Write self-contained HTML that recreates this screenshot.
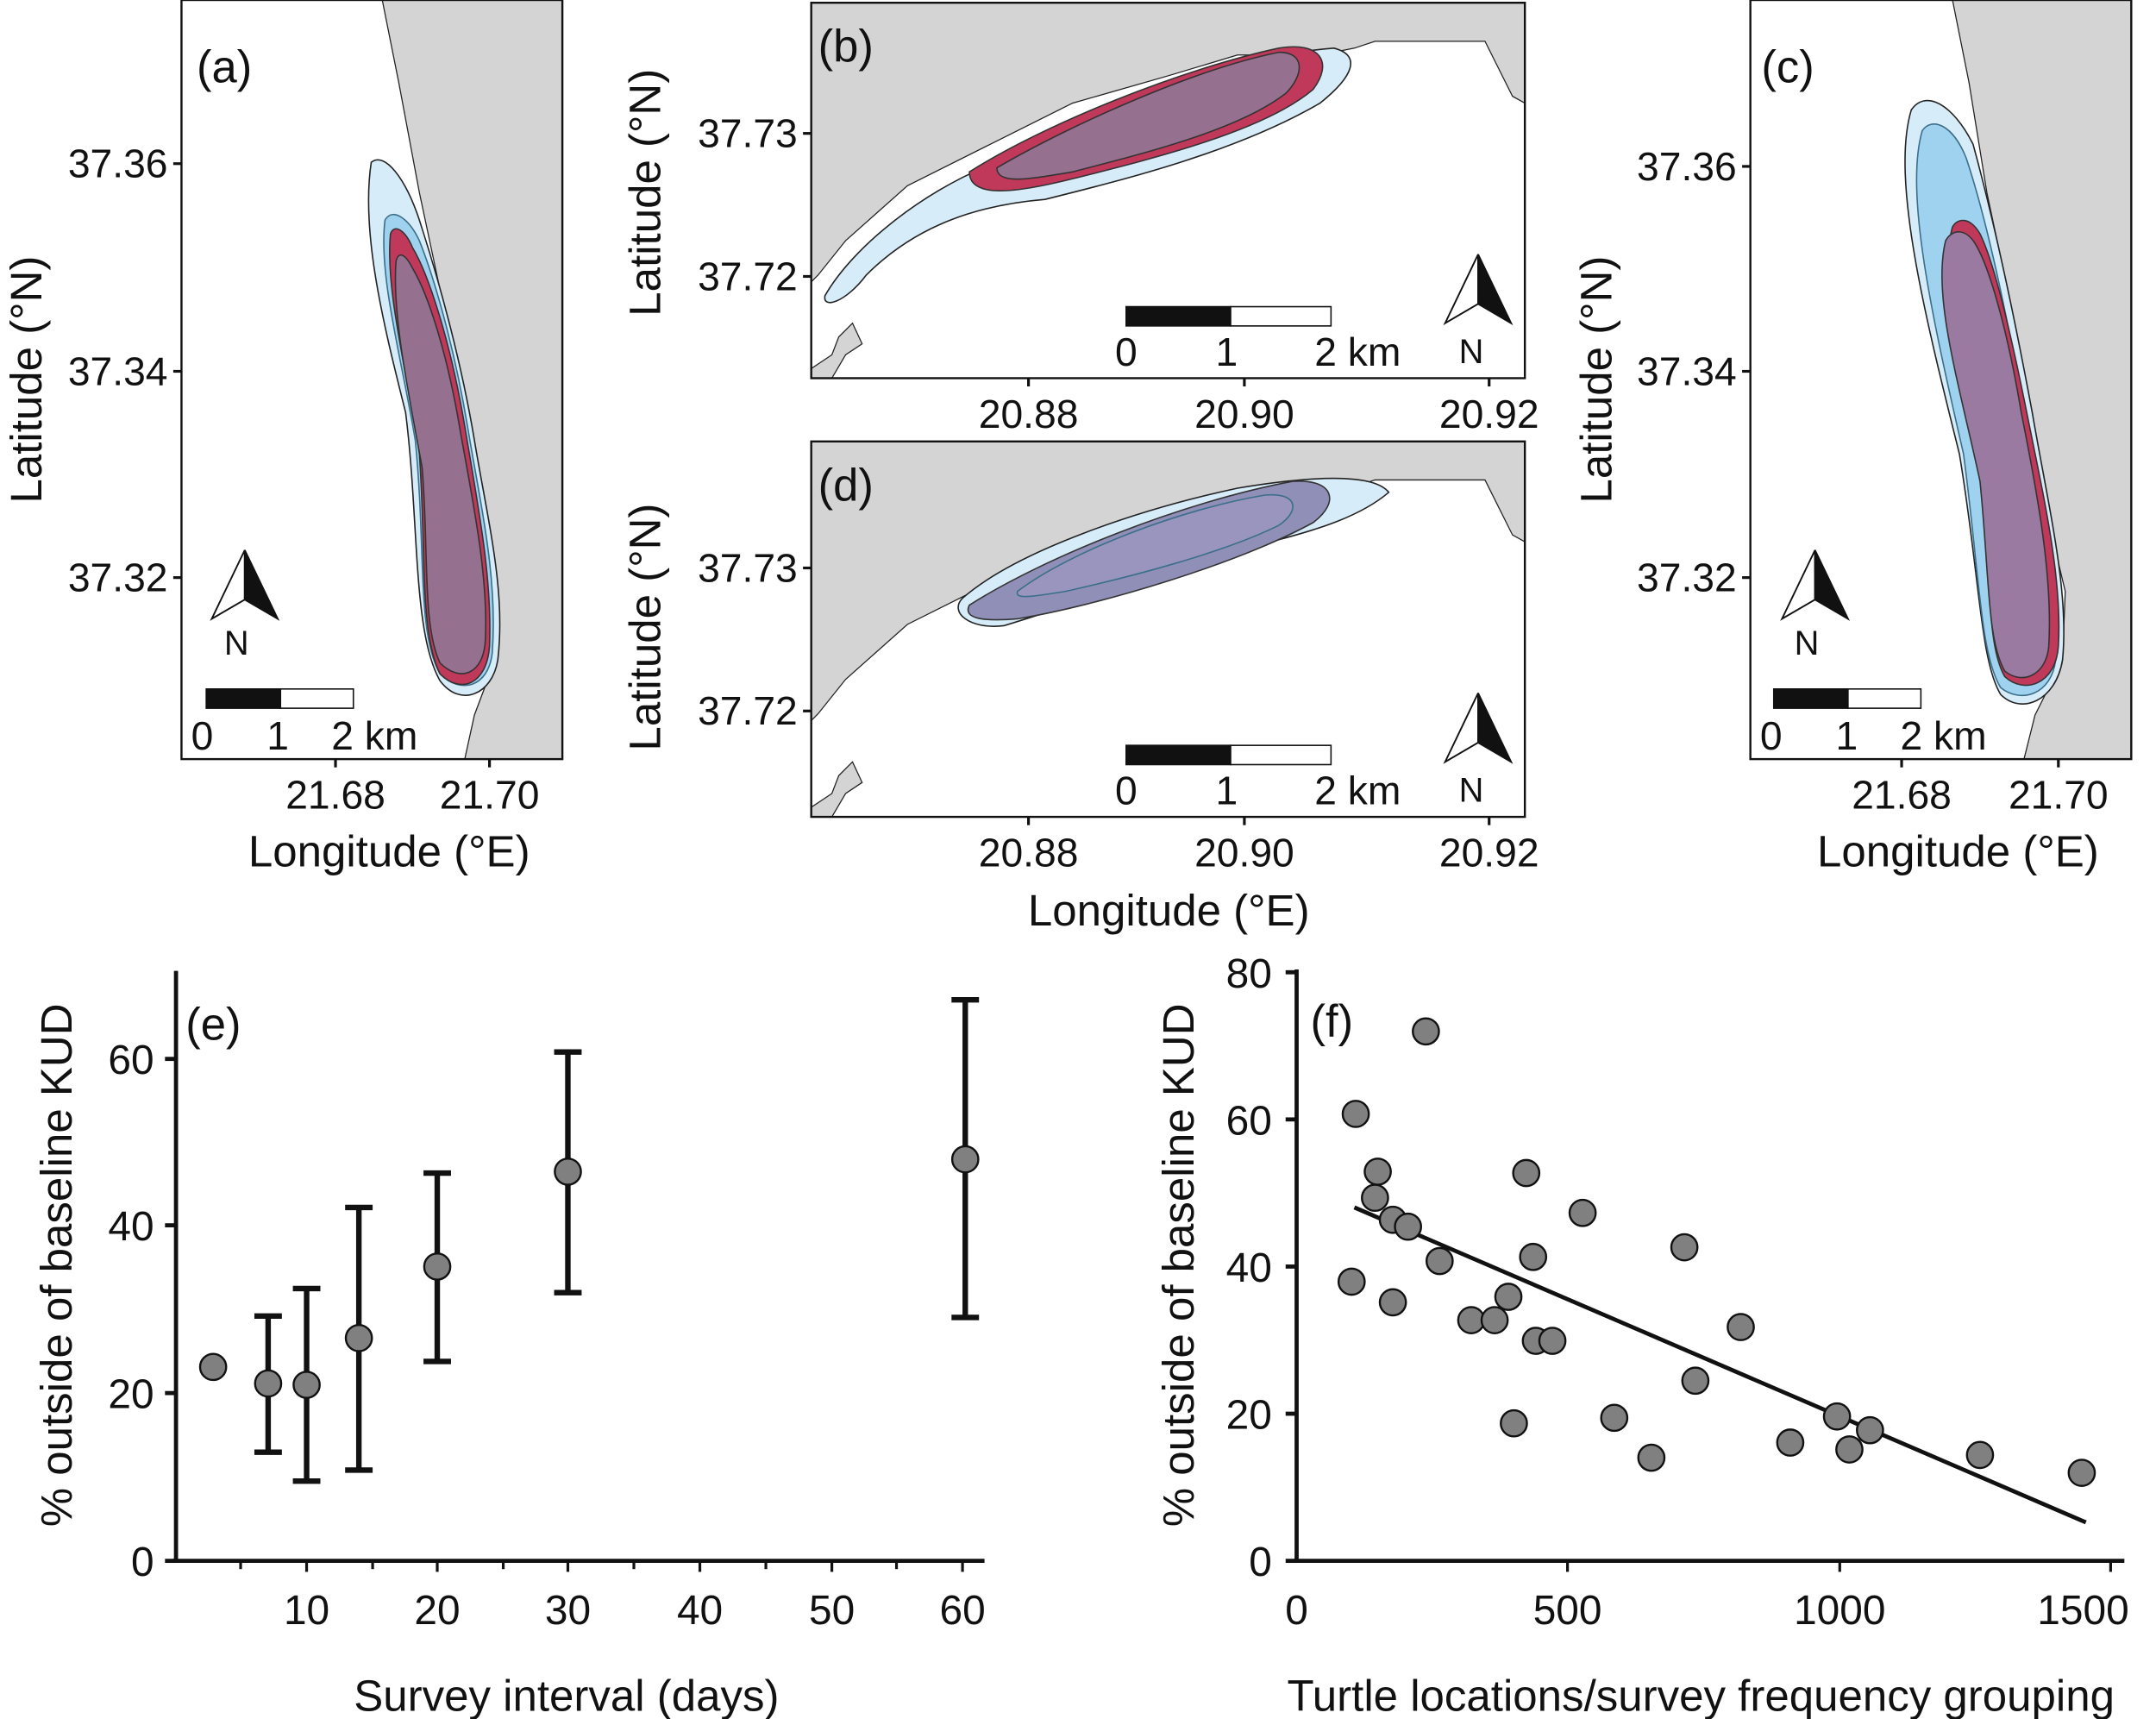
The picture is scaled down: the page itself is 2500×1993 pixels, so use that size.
<!DOCTYPE html>
<html><head><meta charset="utf-8"><style>
html,body{margin:0;padding:0;background:#fff}
svg{display:block}
text{font-family:"Liberation Sans",sans-serif;fill:#111}
</style></head><body>
<svg width="2500" height="1993" viewBox="0 0 1568 1250" xmlns="http://www.w3.org/2000/svg">
<defs>
<g id="north">
<polygon points="0,0 -24,50 0,36" fill="#fff" stroke="#111" stroke-width="1.2"/>
<polygon points="0,0 24,50 0,36" fill="#111" stroke="#111" stroke-width="1.2"/>
</g>
</defs>
<!-- Panel (a) -->
<rect x="132" y="0" width="277" height="552" fill="#fff"/>
<polygon points="278,0 409,0 409,552 338,552 345,520 360,480 362,430 350,380 338,300 322,220 305,140 290,60" fill="#d4d4d4" stroke="#222" stroke-width="0.8"/>
<path d="M270,118 C262,170 280,240 295,300 C305,380 300,460 320,495 C335,515 358,505 362,480 C368,430 355,380 345,320 C335,260 318,200 305,160 C295,130 280,110 270,118Z" fill="#d7ecf9" stroke="#222" stroke-width="1"/>
<path d="M280,160 C275,200 292,260 302,320 C310,400 303,460 320,490 C335,505 355,500 358,475 C362,420 350,370 340,310 C330,250 315,200 305,175 C298,160 286,150 280,160Z" fill="#9fd2ee" stroke="#3a6e8a" stroke-width="1"/>
<path d="M284,170 C280,210 296,270 305,330 C310,400 305,460 320,490 C335,505 354,498 356,470 C358,420 348,370 338,310 C328,250 312,200 300,180 C295,168 287,162 284,170Z" fill="#c0395a" stroke="#333" stroke-width="1"/>
<path d="M288,190 C285,230 298,290 307,340 C312,400 307,455 320,482 C335,497 352,490 353,465 C355,420 345,370 335,315 C326,260 312,215 300,195 C295,185 290,182 288,190Z" fill="#95708f" stroke="#333" stroke-width="1"/>
<rect x="132" y="0" width="277" height="552" fill="none" stroke="#111" stroke-width="1.5"/>
<text x="143" y="60" font-size="33">(a)</text>
<use href="#north" transform="translate(178,400)"/>
<text x="163" y="476" font-size="25">N</text>
<rect x="150" y="501" width="54" height="14" fill="#111" stroke="#111"/>
<rect x="204" y="501" width="53" height="14" fill="#fff" stroke="#111"/>
<text x="139" y="545" font-size="29">0</text><text x="194" y="545" font-size="29">1</text><text x="241" y="545" font-size="29">2 km</text>
<g stroke="#111" stroke-width="2"><line x1="126" y1="119" x2="132" y2="119"/><line x1="126" y1="270" x2="132" y2="270"/><line x1="126" y1="420" x2="132" y2="420"/><line x1="244" y1="552" x2="244" y2="558"/><line x1="356" y1="552" x2="356" y2="558"/></g>
<g font-size="29" text-anchor="end"><text x="122" y="129">37.36</text><text x="122" y="280">37.34</text><text x="122" y="430">37.32</text></g>
<g font-size="29" text-anchor="middle"><text x="244" y="588">21.68</text><text x="356" y="588">21.70</text></g>
<text x="283" y="630" font-size="32" text-anchor="middle">Longitude (°E)</text>
<text transform="translate(30,276) rotate(-90)" font-size="32" text-anchor="middle">Latitude (°N)</text>

<!-- Panel (b) & (d) -->
<g id="pb">
<rect x="590" y="2" width="519" height="273" fill="#fff"/>
<polygon points="590,2 1109,2 1109,75 1100,70 1090,50 1080,30 1050,30 1000,30 985,35 960,40 900,40 850,55 780,75 720,105 660,135 615,175 595,200 590,205" fill="#d4d4d4" stroke="#222" stroke-width="0.8"/>
<polygon points="590,275 590,268 605,258 610,245 620,235 627,250 615,258 605,275" fill="#d4d4d4" stroke="#222" stroke-width="0.8"/>
<rect x="590" y="2" width="519" height="273" fill="none" stroke="#111" stroke-width="1.5"/>
<g stroke="#111" stroke-width="2"><line x1="748" y1="275" x2="748" y2="281"/><line x1="905" y1="275" x2="905" y2="281"/><line x1="1083" y1="275" x2="1083" y2="281"/></g>
<rect x="819" y="223" width="76" height="14" fill="#111" stroke="#111"/>
<rect x="895" y="223" width="73" height="14" fill="#fff" stroke="#111"/>
<text x="811" y="266" font-size="29">0</text><text x="884" y="266" font-size="29">1</text><text x="956" y="266" font-size="29">2 km</text>
<use href="#north" transform="translate(1075,185)"/>
<text x="1061" y="264" font-size="25">N</text>
</g>
<!-- b blobs -->
<path d="M600,215 C620,180 670,140 720,120 C800,80 900,40 970,35 C990,40 985,55 960,75 C900,110 820,130 760,145 C700,150 660,170 630,200 C615,220 598,225 600,215Z" fill="#d7ecf9" stroke="#222" stroke-width="1"/>
<path d="M705,125 C760,90 860,50 930,35 C960,30 970,45 955,65 C920,95 840,115 780,130 C740,140 705,145 705,125Z" fill="#c0395a" stroke="#333" stroke-width="1"/>
<path d="M725,122 C780,90 870,50 930,38 C950,38 948,55 935,68 C900,95 830,112 780,125 C750,130 725,135 725,122Z" fill="#95708f" stroke="#333" stroke-width="1"/>
<text x="595" y="45" font-size="33">(b)</text>
<g stroke="#111" stroke-width="2"><line x1="584" y1="97" x2="590" y2="97"/><line x1="584" y1="201" x2="590" y2="201"/></g>
<g font-size="29" text-anchor="end"><text x="580" y="107">37.73</text><text x="580" y="211">37.72</text></g>
<g font-size="29" text-anchor="middle"><text x="748" y="311">20.88</text><text x="905" y="311">20.90</text><text x="1083" y="311">20.92</text></g>
<text transform="translate(480,140) rotate(-90)" font-size="32" text-anchor="middle">Latitude (°N)</text>

<use href="#pb" transform="translate(0,319)"/>
<path d="M700,435 C740,400 830,370 900,355 C960,345 1000,345 1010,358 C990,375 960,385 920,395 C850,415 780,440 730,455 C705,458 690,445 700,435Z" fill="#d7ecf9" stroke="#222" stroke-width="1"/>
<path d="M705,440 C760,405 860,365 940,350 C970,348 975,365 955,380 C900,410 800,440 740,450 C715,452 700,450 705,440Z" fill="#8f8fb8" stroke="#333" stroke-width="1"/>
<path d="M740,430 C780,400 860,370 920,360 C945,358 945,372 930,382 C890,402 820,420 775,430 C750,434 738,436 740,430Z" fill="#9a95bf" stroke="#3a6e8a" stroke-width="1"/>
<text x="595" y="364" font-size="33">(d)</text>
<g stroke="#111" stroke-width="2"><line x1="584" y1="413" x2="590" y2="413"/><line x1="584" y1="517" x2="590" y2="517"/></g>
<g font-size="29" text-anchor="end"><text x="580" y="423">37.73</text><text x="580" y="527">37.72</text></g>
<g font-size="29" text-anchor="middle"><text x="748" y="630">20.88</text><text x="905" y="630">20.90</text><text x="1083" y="630">20.92</text></g>
<text x="850" y="673" font-size="32" text-anchor="middle">Longitude (°E)</text>
<text transform="translate(480,456) rotate(-90)" font-size="32" text-anchor="middle">Latitude (°N)</text>

<!-- Panel (c) -->
<rect x="1273" y="0" width="277" height="552" fill="#fff"/>
<polygon points="1420,0 1550,0 1550,552 1472,552 1480,520 1500,480 1502,430 1490,380 1478,300 1462,220 1445,140 1432,60" fill="#d4d4d4" stroke="#222" stroke-width="0.8"/>
<path d="M1390,80 C1375,130 1400,230 1425,330 C1440,420 1440,480 1455,505 C1470,520 1495,510 1500,480 C1505,430 1490,370 1478,300 C1465,230 1450,160 1435,105 C1420,75 1400,65 1390,80Z" fill="#d7ecf9" stroke="#222" stroke-width="1"/>
<path d="M1398,95 C1385,140 1405,230 1428,330 C1440,420 1440,475 1455,500 C1470,512 1492,505 1495,480 C1498,430 1485,370 1472,300 C1460,230 1445,160 1430,115 C1420,90 1405,85 1398,95Z" fill="#9fd2ee" stroke="#3a6e8a" stroke-width="1"/>
<path d="M1420,165 C1410,200 1425,270 1440,340 C1448,420 1445,470 1458,492 C1472,505 1495,498 1497,470 C1500,420 1486,360 1474,300 C1462,240 1450,190 1440,170 C1433,158 1424,158 1420,165Z" fill="#c0395a" stroke="#333" stroke-width="1"/>
<path d="M1415,175 C1405,215 1425,280 1440,350 C1447,420 1445,465 1458,488 C1470,498 1488,492 1490,470 C1493,420 1482,360 1470,300 C1460,240 1447,195 1437,178 C1430,166 1420,166 1415,175Z" fill="#9a7aa0" stroke="#333" stroke-width="1"/>
<rect x="1273" y="0" width="277" height="552" fill="none" stroke="#111" stroke-width="1.5"/>
<text x="1281" y="60" font-size="33">(c)</text>
<use href="#north" transform="translate(1320,400)"/>
<text x="1305" y="476" font-size="25">N</text>
<rect x="1290" y="501" width="54" height="14" fill="#111" stroke="#111"/>
<rect x="1344" y="501" width="53" height="14" fill="#fff" stroke="#111"/>
<text x="1280" y="545" font-size="29">0</text><text x="1335" y="545" font-size="29">1</text><text x="1382" y="545" font-size="29">2 km</text>
<g stroke="#111" stroke-width="2"><line x1="1267" y1="121" x2="1273" y2="121"/><line x1="1267" y1="270" x2="1273" y2="270"/><line x1="1267" y1="420" x2="1273" y2="420"/><line x1="1383" y1="552" x2="1383" y2="558"/><line x1="1497" y1="552" x2="1497" y2="558"/></g>
<g font-size="29" text-anchor="end"><text x="1263" y="131">37.36</text><text x="1263" y="280">37.34</text><text x="1263" y="430">37.32</text></g>
<g font-size="29" text-anchor="middle"><text x="1383" y="588">21.68</text><text x="1497" y="588">21.70</text></g>
<text x="1424" y="630" font-size="32" text-anchor="middle">Longitude (°E)</text>
<text transform="translate(1172,276) rotate(-90)" font-size="32" text-anchor="middle">Latitude (°N)</text>

<!-- Panel (e) -->
<g stroke="#111" stroke-width="3" fill="none">
<line x1="128" y1="706" x2="128" y2="1136"/>
<line x1="126" y1="1135" x2="716" y2="1135"/>
<line x1="120" y1="1135" x2="128" y2="1135"/><line x1="120" y1="1013" x2="128" y2="1013"/><line x1="120" y1="891" x2="128" y2="891"/><line x1="120" y1="770" x2="128" y2="770"/>
</g>
<g stroke="#111" stroke-width="2">
<line x1="175" y1="1135" x2="175" y2="1141"/><line x1="223" y1="1135" x2="223" y2="1143"/><line x1="271" y1="1135" x2="271" y2="1141"/><line x1="318" y1="1135" x2="318" y2="1143"/><line x1="366" y1="1135" x2="366" y2="1141"/><line x1="413" y1="1135" x2="413" y2="1143"/><line x1="461" y1="1135" x2="461" y2="1141"/><line x1="509" y1="1135" x2="509" y2="1143"/><line x1="557" y1="1135" x2="557" y2="1141"/><line x1="605" y1="1135" x2="605" y2="1143"/><line x1="652" y1="1135" x2="652" y2="1141"/><line x1="700" y1="1135" x2="700" y2="1143"/>
</g>
<g font-size="30" text-anchor="end"><text x="112" y="1146">0</text><text x="112" y="1024">20</text><text x="112" y="902">40</text><text x="112" y="781">60</text></g>
<g font-size="30" text-anchor="middle"><text x="223" y="1181">10</text><text x="318" y="1181">20</text><text x="413" y="1181">30</text><text x="509" y="1181">40</text><text x="605" y="1181">50</text><text x="700" y="1181">60</text></g>
<text x="135" y="756" font-size="33">(e)</text>
<text x="412" y="1244" font-size="32" text-anchor="middle">Survey interval (days)</text>
<text transform="translate(52,920) rotate(-90)" font-size="32" text-anchor="middle">% outside of baseline KUD</text>
<g stroke="#111" stroke-width="4">
<line x1="195" y1="1056" x2="195" y2="957"/><line x1="185" y1="1056" x2="205" y2="1056"/><line x1="185" y1="957" x2="205" y2="957"/>
<line x1="223" y1="1077" x2="223" y2="937"/><line x1="213" y1="1077" x2="233" y2="1077"/><line x1="213" y1="937" x2="233" y2="937"/>
<line x1="261" y1="1069" x2="261" y2="878"/><line x1="251" y1="1069" x2="271" y2="1069"/><line x1="251" y1="878" x2="271" y2="878"/>
<line x1="318" y1="990" x2="318" y2="853"/><line x1="308" y1="990" x2="328" y2="990"/><line x1="308" y1="853" x2="328" y2="853"/>
<line x1="413" y1="940" x2="413" y2="765"/><line x1="403" y1="940" x2="423" y2="940"/><line x1="403" y1="765" x2="423" y2="765"/>
<line x1="702" y1="958" x2="702" y2="727"/><line x1="692" y1="958" x2="712" y2="958"/><line x1="692" y1="727" x2="712" y2="727"/>
</g>
<g fill="#808080" stroke="#111" stroke-width="1.5">
<circle cx="155" cy="994" r="9.5"/><circle cx="195" cy="1006" r="9.5"/><circle cx="223" cy="1007" r="9.5"/><circle cx="261" cy="973" r="9.5"/><circle cx="318" cy="921" r="9.5"/><circle cx="413" cy="852" r="9.5"/><circle cx="702" cy="843" r="9.5"/>
</g>

<!-- Panel (f) -->
<g stroke="#111" stroke-width="3" fill="none">
<line x1="943" y1="705" x2="943" y2="1136"/>
<line x1="941" y1="1135" x2="1545" y2="1135"/>
<line x1="935" y1="1135" x2="943" y2="1135"/><line x1="935" y1="1028" x2="943" y2="1028"/><line x1="935" y1="921" x2="943" y2="921"/><line x1="935" y1="814" x2="943" y2="814"/><line x1="935" y1="707" x2="943" y2="707"/>
</g>
<g stroke="#111" stroke-width="2"><line x1="1140" y1="1135" x2="1140" y2="1143"/><line x1="1338" y1="1135" x2="1338" y2="1143"/><line x1="1535" y1="1135" x2="1535" y2="1143"/></g>
<g font-size="30" text-anchor="end"><text x="925" y="1146">0</text><text x="925" y="1039">20</text><text x="925" y="932">40</text><text x="925" y="825">60</text><text x="925" y="718">80</text></g>
<g font-size="30" text-anchor="middle"><text x="943" y="1181">0</text><text x="1140" y="1181">500</text><text x="1338" y="1181">1000</text><text x="1515" y="1181">1500</text></g>
<text x="953" y="754" font-size="33">(f)</text>
<text x="1237" y="1244" font-size="32" text-anchor="middle">Turtle locations/survey frequency grouping</text>
<text transform="translate(868,920) rotate(-90)" font-size="32" text-anchor="middle">% outside of baseline KUD</text>
<line x1="985" y1="878" x2="1517" y2="1107" stroke="#111" stroke-width="3"/>
<g fill="#808080" stroke="#111" stroke-width="1.5">
<circle cx="983" cy="932" r="9.5"/><circle cx="986" cy="810" r="9.5"/><circle cx="1002" cy="852" r="9.5"/><circle cx="1000" cy="871" r="9.5"/><circle cx="1013" cy="887" r="9.5"/><circle cx="1013" cy="947" r="9.5"/><circle cx="1024" cy="892" r="9.5"/><circle cx="1047" cy="917" r="9.5"/><circle cx="1037" cy="750" r="9.5"/><circle cx="1070" cy="960" r="9.5"/><circle cx="1087" cy="960" r="9.5"/><circle cx="1097" cy="943" r="9.5"/><circle cx="1101" cy="1035" r="9.5"/><circle cx="1110" cy="853" r="9.5"/><circle cx="1115" cy="914" r="9.5"/><circle cx="1117" cy="975" r="9.5"/><circle cx="1129" cy="975" r="9.5"/><circle cx="1151" cy="882" r="9.5"/><circle cx="1174" cy="1031" r="9.5"/><circle cx="1201" cy="1060" r="9.5"/><circle cx="1225" cy="907" r="9.5"/><circle cx="1233" cy="1004" r="9.5"/><circle cx="1266" cy="965" r="9.5"/><circle cx="1302" cy="1049" r="9.5"/><circle cx="1336" cy="1030" r="9.5"/><circle cx="1345" cy="1054" r="9.5"/><circle cx="1360" cy="1040" r="9.5"/><circle cx="1440" cy="1058" r="9.5"/><circle cx="1514" cy="1071" r="9.5"/>
</g>
</svg>
</body></html>
